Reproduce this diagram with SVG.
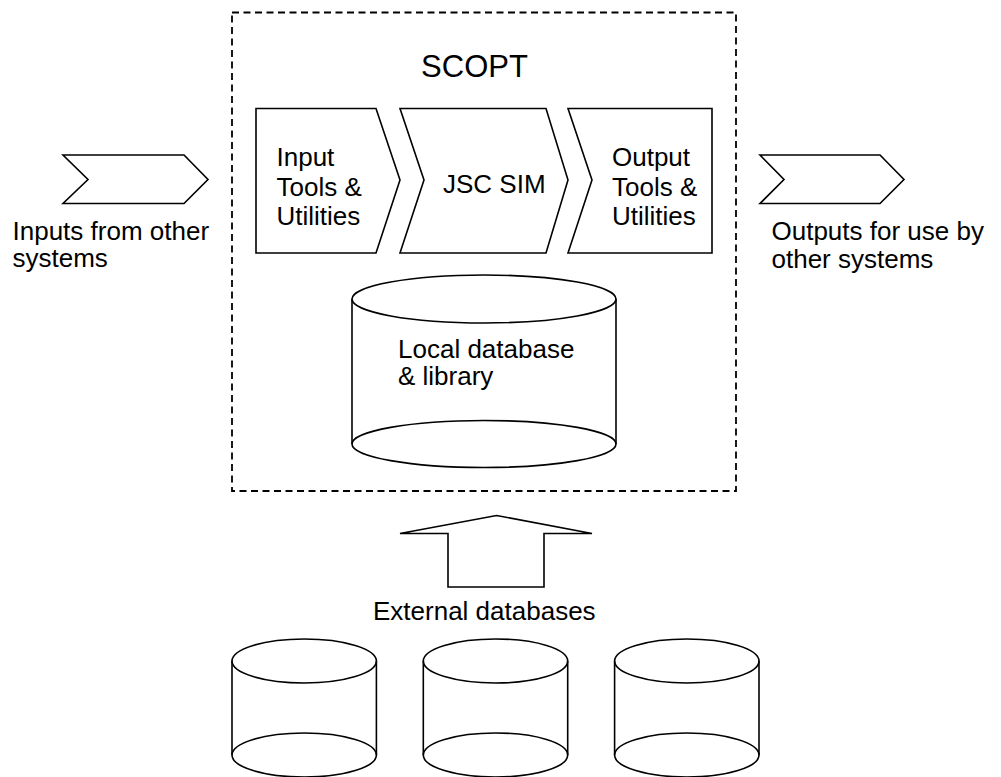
<svg xmlns="http://www.w3.org/2000/svg" width="1001" height="777" viewBox="0 0 1001 777">
<style>
.s{fill:#fff;stroke:#000;stroke-width:1.6;stroke-linejoin:miter}
.e{fill:none;stroke:#000;stroke-width:1.6}
.t{font-family:"Liberation Sans",Arial,sans-serif;font-size:26px;fill:#000}
</style>
<rect width="1001" height="777" fill="#fff"/>
<g id="scopt">
<rect x="232" y="12.5" width="504" height="478.5" fill="none" stroke="#000" stroke-width="1.8" stroke-dasharray="7,4.5"/>
<text class="t" x="474.5" y="76.5" text-anchor="middle" style="font-size:31px">SCOPT</text>
</g>
<g id="inputs">
<polygon class="s" points="63,155 184,155 208,179.5 184,203.5 63,203.5 88,179.5"/>
<text class="t" x="12.5" y="239.5">Inputs from other</text>
<text class="t" x="12.5" y="267">systems</text>
</g>
<g id="outputs">
<polygon class="s" points="760,155 880,155 904,179.5 880,203.5 760,203.5 784,179.5"/>
<text class="t" x="771.5" y="240">Outputs for use by</text>
<text class="t" x="771.5" y="267.5">other systems</text>
</g>
<g id="input-tools">
<polygon class="s" points="256,108.5 376,108.5 400,180 376,253 256,253"/>
<text class="t" x="276.5" y="166">Input</text>
<text class="t" x="276.5" y="195.5">Tools &amp;</text>
<text class="t" x="276.5" y="225">Utilities</text>
</g>
<g id="jsc-sim">
<polygon class="s" points="400,108.5 546,108.5 568,180 546,253 400,253 424,180"/>
<text class="t" x="443" y="192.5">JSC SIM</text>
</g>
<g id="output-tools">
<polygon class="s" points="568,108.5 712,108.5 712,253 568,253 592,180"/>
<text class="t" x="612" y="166">Output</text>
<text class="t" x="612" y="195.5">Tools &amp;</text>
<text class="t" x="612" y="225">Utilities</text>
</g>
<g id="local-db">
<ellipse class="e" cx="484" cy="299" rx="132" ry="24"/>
<ellipse class="e" cx="484" cy="444" rx="132" ry="23.5"/>
<line class="e" x1="352" y1="299" x2="352" y2="444"/>
<line class="e" x1="616" y1="299" x2="616" y2="444"/>
<text class="t" x="398" y="357.5">Local database</text>
<text class="t" x="398" y="385">&amp; library</text>
</g>
<g id="connectors">
<polygon class="s" points="496.5,515.5 592,533.5 544,533.5 544,587 448,587 448,533.5 400,533.5"/>
</g>
<g id="external-label">
<text class="t" x="373" y="620">External databases</text>
</g>
<g id="ext-db-1">
<ellipse class="e" cx="304.2" cy="661" rx="72.2" ry="22"/>
<ellipse class="e" cx="304.2" cy="755" rx="72.2" ry="22"/>
<line class="e" x1="232" y1="661" x2="232" y2="755"/>
<line class="e" x1="376.4" y1="661" x2="376.4" y2="755"/>
</g>
<g id="ext-db-2">
<ellipse class="e" cx="495.5" cy="661" rx="72.2" ry="22"/>
<ellipse class="e" cx="495.5" cy="755" rx="72.2" ry="22"/>
<line class="e" x1="423.3" y1="661" x2="423.3" y2="755"/>
<line class="e" x1="567.7" y1="661" x2="567.7" y2="755"/>
</g>
<g id="ext-db-3">
<ellipse class="e" cx="686.8" cy="661" rx="72.2" ry="22"/>
<ellipse class="e" cx="686.8" cy="755" rx="72.2" ry="22"/>
<line class="e" x1="614.6" y1="661" x2="614.6" y2="755"/>
<line class="e" x1="759" y1="661" x2="759" y2="755"/>
</g>
</svg>
